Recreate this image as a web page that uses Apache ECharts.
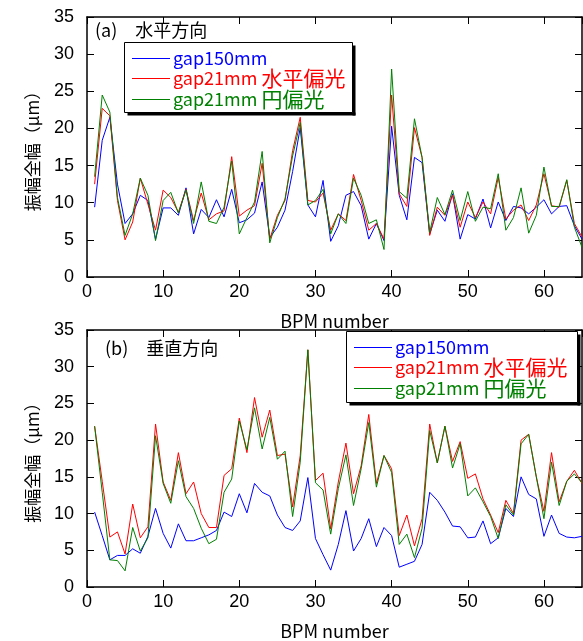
<!DOCTYPE html>
<html>
<head>
<meta charset="utf-8">
<script src="https://cdn.jsdelivr.net/npm/echarts@6/dist/echarts.min.js"></script>
<style>
    html, body { margin: 0; padding: 0; background: #fff; }
    #chart { width: 583px; height: 641px; }
</style>
</head>
<body>
<div id="chart"></div>
<script>
    // 系列名
    var seriesNames = ['gap150mm', 'gap21mm 水平偏光', 'gap21mm 円偏光'];
    var seriesColors = ['#0000ff', '#ff0000', '#008000'];
    var xTicks = [0, 65, 10];
    var yTicks = [0, 35, 5];

    // (a) 水平方向, BPM 1..65
    var hBlue = [9.4, 18.4, 21.5, 12.5, 7.2, 8.5, 11, 10.3, 5.1, 9.3,
        9.3, 8.3, 12, 5.8, 9.1, 8, 10.4, 8.1, 11.8, 7.3,
        7.7, 8.6, 12.8, 5.3, 6.7, 9, 14.2, 20.1, 9.7, 8.1,
        13, 4.8, 6.9, 11, 11.5, 9.6, 5.1, 7.2, 4.9, 20.3,
        11, 7.7, 16.1, 15.4, 5.8, 9, 7.5, 11.2, 5.1, 8.4,
        7.8, 10.5, 6.6, 10.1, 7.6, 9.5, 9.3, 8.5, 9.4, 10.4,
        8.5, 9.5, 9.6, 6.9, 5.1];
    var hRed = [12.5, 22.7, 21.7, 10.3, 5.0, 7.4, 13.3, 9.8, 6.3, 11.7,
        10.7, 8.7, 11.8, 7.6, 11.3, 7.7, 8.5, 8.9, 16.2, 8.2,
        9, 9.6, 15.3, 5.1, 8.3, 10.3, 17, 21.5, 10.3, 10.1,
        11.3, 6.3, 8.5, 7.6, 13.8, 10.3, 6.3, 7.2, 5.1, 24.5,
        11.2, 9.5, 20.1, 16.1, 5.6, 9.4, 8.3, 11, 6.7, 10.1,
        8, 10.1, 8.5, 13.4, 7.8, 9, 9.7, 7.6, 9.7, 13.9,
        9.6, 9.4, 13, 7.2, 5.4];
    var hGreen = [13.5, 24.5, 22.2, 10.7, 5.6, 8.5, 13.3, 11, 4.9, 10.3,
        11.4, 8.6, 11.7, 7.2, 12.8, 7.5, 7.2, 9.4, 15.6, 5.8,
        8, 10.1, 16.9, 4.6, 8, 10.5, 16.3, 20.8, 9.7, 10.3,
        11.8, 5.8, 8.5, 7.2, 13.3, 11, 7.2, 7.7, 3.7, 28,
        11.5, 10.6, 21.3, 16.1, 6, 10.7, 8.4, 11.7, 7.6, 11.5,
        7.5, 9.4, 9.2, 13.9, 6.3, 8, 12, 5.9, 8.3, 14.8,
        9.5, 9.5, 13.1, 6.7, 4];

    // (b) 垂直方向
    var vBlue = [10.2, 7, 3.7, 4.3, 4.3, 5.2, 4.6, 6.9, 10.7, 7.3,
        5.3, 8.6, 6.3, 6.3, 6.7, 7.1, 7.7, 10.2, 9.6, 12.7,
        10.1, 14.1, 12.9, 12.4, 9.8, 8.1, 7.7, 9, 14.9, 6.6,
        4.4, 2.3, 5.8, 10.4, 4.9, 6.6, 9.3, 5.5, 8.1, 7,
        2.7, 3.1, 3.5, 5.8, 12.9, 11.8, 10.2, 8.3, 8.2, 6.7,
        6.8, 9, 5.9, 6.7, 10.7, 9.6, 15, 12.6, 12, 6.9,
        9.8, 7.3, 6.8, 6.7, 6.9];
    var vRed = [21.9, 14.4, 6.8, 7.5, 4.5, 11.3, 6.7, 8.2, 22.2, 14.3,
        11.8, 18.3, 12.7, 14.3, 10, 8.1, 8.1, 15.2, 16.1, 23,
        18.3, 25.8, 20.4, 24.1, 17.9, 18.1, 10.9, 17.9, 32.3, 14.5,
        15.5, 7.9, 14.3, 19.6, 12.7, 16.5, 23.5, 14.1, 17.9, 16.1,
        7, 9.8, 5.6, 9.3, 22.2, 16.9, 21.9, 17.1, 19.8, 14.8,
        15.4, 12, 9.8, 7.4, 11.8, 10, 20, 20.8, 15, 10.3,
        18.3, 11.6, 14.4, 15.9, 14.1];
    var vGreen = [21.9, 12.9, 3.7, 3.6, 2.2, 8.1, 4.9, 6.7, 20.6, 14.1,
        11.4, 17.2, 12.3, 10.7, 8, 5.9, 6.5, 12.9, 14.7, 22.6,
        18.7, 24.4, 18.8, 23.1, 17.4, 18.5, 9.6, 17, 32.3, 14.2,
        13.2, 7.2, 13.4, 18, 11.1, 16.1, 22.4, 13.6, 17.9, 15.6,
        5.8, 7.2, 4, 8, 21.3, 16.9, 21.9, 16.2, 19.5, 12.4,
        13.5, 11.6, 9.6, 6.6, 11.2, 9.8, 19.5, 20.8, 15, 9.3,
        17, 11.1, 14.4, 15.4, 14.2];

    var jpFont = "'Noto Sans CJK JP', sans-serif";

    function toPairs(arr) {
        return arr.map(function (v, i) { return [i + 1, v]; });
    }

    function xAxisOf(gridIndex, position) {
        var bottom = position === 'bottom';
        return {
            type: 'value',
            gridIndex: gridIndex,
            position: position,
            min: xTicks[0], max: xTicks[1], interval: xTicks[2],
            name: bottom ? 'BPM number' : '',
            nameLocation: 'middle',
            nameGap: 35,
            nameTextStyle: {color: '#000', fontFamily: jpFont, fontSize: 18},
            axisLine: {show: true, onZero: false, lineStyle: {color: '#000', width: 1.5}},
            axisTick: {show: true, inside: true, length: 7, lineStyle: {color: '#000'}},
            axisLabel: {
                show: bottom, showMaxLabel: false, margin: 6,
                color: '#000', fontFamily: 'Liberation Sans', fontSize: 18
            },
            splitLine: {show: false}
        };
    }

    function yAxisOf(gridIndex, position) {
        var left = position === 'left';
        return {
            type: 'value',
            gridIndex: gridIndex,
            position: position,
            min: yTicks[0], max: yTicks[1], interval: yTicks[2],
            name: left ? '振幅全幅（μm）' : '',
            nameLocation: 'middle',
            nameRotate: 90,
            nameGap: 46,
            nameTextStyle: {color: '#000', fontFamily: jpFont, fontSize: 17},
            axisLine: {show: true, onZero: false, lineStyle: {color: '#000', width: 1.5}},
            axisTick: {show: true, inside: true, length: 7, lineStyle: {color: '#000'}},
            axisLabel: {
                show: left, margin: 13,
                color: '#000', fontFamily: 'Liberation Sans', fontSize: 18
            },
            splitLine: {show: false}
        };
    }

    function legendOf(left, top) {
        return {
            orient: 'vertical',
            left: left,
            top: top,
            z: 6,
            padding: 0,
            itemGap: 0,
            itemWidth: 38,
            itemHeight: 1,
            icon: 'rect',
            textStyle: {
                fontFamily: jpFont, fontSize: 18, lineHeight: 19, padding: [0, 0, 0, -2],
                rich: {jp: {fontFamily: jpFont, fontSize: 21, lineHeight: 19}}
            },
            formatter: function (name) {
                var k = name.indexOf(' ');
                return k < 0 ? name : name.slice(0, k + 1) + '{jp|' + name.slice(k + 1) + '}';
            },
            data: seriesNames.map(function (n, i) {
                return {name: n, textStyle: {color: seriesColors[i]}};
            })
        };
    }

    // 凡例の枠と影 [x, y, w, h]
    function legendBox(b) {
        return [
            {type: 'rect', z: 5, silent: true, shape: {x: b[0], y: b[1], width: b[2], height: b[3]},
                style: {fill: '#fff', stroke: '#000', lineWidth: 1}},
            {type: 'rect', z: 5, silent: true, shape: {x: b[0] + b[2], y: b[1] + 3, width: 3, height: b[3]},
                style: {fill: '#000'}},
            {type: 'rect', z: 5, silent: true, shape: {x: b[0] + 3, y: b[1] + b[3], width: b[2], height: 3},
                style: {fill: '#000'}}
        ];
    }

    function lineOf(name, color, xi, yi, arr) {
        return {
            name: name,
            type: 'line',
            xAxisIndex: xi,
            yAxisIndex: yi,
            symbol: 'none',
            animation: false,
            lineStyle: {color: color, width: 1},
            itemStyle: {color: color},
            data: toPairs(arr)
        };
    }

    var option = {
        backgroundColor: '#fff',
        animation: false,
        grid: [
            {left: 87, right: 1, top: 17, height: 260},
            {left: 87, right: 1, top: 330, height: 259}
        ],
        xAxis: [xAxisOf(0, 'bottom'), xAxisOf(0, 'top'), xAxisOf(1, 'bottom'), xAxisOf(1, 'top')],
        yAxis: [yAxisOf(0, 'left'), yAxisOf(0, 'right'), yAxisOf(1, 'left'), yAxisOf(1, 'right')],
        legend: [legendOf(132, 49), legendOf(354, 338)],
        graphic: [
            {type: 'text', left: 95, top: 21, z: 100,
                style: {text: '(a)　水平方向', fill: '#000', font: '18px ' + jpFont}},
            {type: 'text', left: 105, top: 339, z: 100,
                style: {text: '(b)　垂直方向', fill: '#000', font: '18px ' + jpFont}}
        ].concat(legendBox([124.5, 42.5, 228, 70]), legendBox([346.5, 331.5, 231, 71])),
        series: [
            lineOf(seriesNames[0], seriesColors[0], 0, 0, hBlue),
            lineOf(seriesNames[1], seriesColors[1], 0, 0, hRed),
            lineOf(seriesNames[2], seriesColors[2], 0, 0, hGreen),
            lineOf(seriesNames[0], seriesColors[0], 2, 2, vBlue),
            lineOf(seriesNames[1], seriesColors[1], 2, 2, vRed),
            lineOf(seriesNames[2], seriesColors[2], 2, 2, vGreen)
        ]
    };

    var chart = echarts.init(document.getElementById('chart'));
    chart.setOption(option);
</script>
</body>
</html>
